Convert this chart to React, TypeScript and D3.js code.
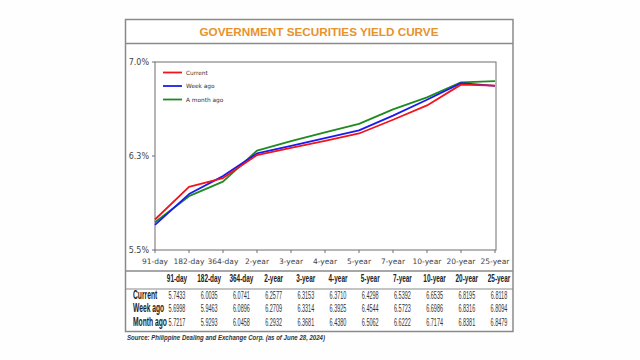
import React from "react";
import * as d3 from "d3";

const tenors = ["91-day", "182-day", "364-day", "2-year", "3-year", "4-year", "5-year", "7-year", "10-year", "20-year", "25-year"];
const current = [5.7433, 6.0035, 6.0741, 6.2577, 6.3153, 6.371, 6.4298, 6.5392, 6.6535, 6.8195, 6.8118];
const weekAgo = [5.6998, 5.9463, 6.0896, 6.2709, 6.3314, 6.3925, 6.4544, 6.5723, 6.6986, 6.8316, 6.8094];
const monthAgo = [5.7217, 5.9293, 6.0458, 6.2932, 6.3681, 6.438, 6.5062, 6.6222, 6.7174, 6.8381, 6.8479];
const yTicks = [5.5, 6.25, 7.0];
const seriesNames = ["Current", "Week ago", "A month ago"];
const rowLabels = ["Current", "Week ago", "Month ago"];
const seriesColors = ["#f2141b", "#1b1bf0", "#1f8a22"];

const W = 640;
const H = 360;
const plot = { left: 155, right: 496, top: 62, bottom: 250 };

export default function App() {
  const x = d3.scalePoint<string>().domain(tenors).range([plot.left, plot.right - 1]);
  const y = d3.scaleLinear().domain([5.5, 7.0]).range([plot.bottom, plot.top]);
  const line = d3
    .line<number>()
    .x((_, i) => x(tenors[i]) as number)
    .y((d) => y(d));
  const series = [current, weekAgo, monthAgo];
  const fmtY = d3.format(".1f");
  const fmtV = d3.format(".4f");
  const colX = d3.scalePoint<string>().domain(tenors).range([177, 499]);
  const rowY = [298.5, 312, 325.5];
  const tableFont = "'Liberation Sans', Arial, sans-serif";
  const axisFont = "Tahoma, 'DejaVu Sans', 'Liberation Sans', sans-serif";

  return (
    <svg width={W} height={H} style={{ position: "absolute", left: 0, top: 0, background: "#fff" }}>
      <rect x={0} y={0} width={W} height={H} fill="#fefefe" />
      {/* outer frame */}
      <rect x={125.5} y={19.5} width={387.5} height={312} fill="#fff" stroke="#8a8a8a" strokeWidth={1.5} />
      <line x1={125.5} x2={513} y1={43.5} y2={43.5} stroke="#8a8a8a" strokeWidth={1.5} />
      <text
        x={319}
        y={36}
        textAnchor="middle"
        fill="#e8922c"
        fontFamily="'Liberation Sans', Arial, sans-serif"
        fontWeight="bold"
        fontSize={11.5}
        textLength={239}
        lengthAdjust="spacingAndGlyphs"
      >
        GOVERNMENT SECURITIES YIELD CURVE
      </text>

      {/* plot box */}
      <rect
        x={plot.left}
        y={plot.top}
        width={plot.right - plot.left}
        height={plot.bottom - plot.top}
        fill="#fff"
        stroke="#6e6e6e"
        strokeWidth={1}
      />
      {yTicks.map((t) => (
        <g key={t}>
          <line x1={plot.left - 3} x2={plot.left} y1={y(t)} y2={y(t)} stroke="#6e6e6e" />
          <text x={149} y={y(t) + 3} textAnchor="end" fontFamily={axisFont} fontSize={8} fill="#444">
            {fmtY(t)}%
          </text>
        </g>
      ))}
      {tenors.map((c) => (
        <g key={c}>
          <line x1={x(c)} x2={x(c)} y1={plot.bottom} y2={plot.bottom + 3} stroke="#6e6e6e" />
          <text x={x(c)} y={264} textAnchor="middle" fontFamily={axisFont} fontSize={7.5} fill="#444">
            {c}
          </text>
        </g>
      ))}

      {/* lines */}
      {[2, 1, 0].map((i) => (
        <path key={i} d={line(series[i]) || ""} fill="none" stroke={seriesColors[i]} strokeWidth={1.8} strokeLinejoin="round" />
      ))}

      {/* legend */}
      {seriesNames.map((n, i) => (
        <g key={n}>
          <line x1={163} x2={182} y1={72.5 + i * 13.5} y2={72.5 + i * 13.5} stroke={seriesColors[i]} strokeWidth={1.8} />
          <text x={186} y={74.5 + i * 13.5} fontFamily={axisFont} fontSize={5.8} fill="#333">
            {n}
          </text>
        </g>
      ))}

      {/* table */}
      <line x1={125.5} x2={513} y1={271} y2={271} stroke="#8a8a8a" strokeWidth={1.5} />
      <line x1={125.5} x2={513} y1={289} y2={289} stroke="#8a8a8a" strokeWidth={1.2} />
      {tenors.map((c) => (
        <text
          key={c}
          transform={`translate(${colX(c)},${282}) scale(0.56,1)`}
          textAnchor="middle"
          fontFamily={tableFont}
          fontWeight="bold"
          fontSize={11.5}
          fill="#222"
        >
          {c}
        </text>
      ))}
      {rowLabels.map((r, ri) => (
        <g key={r}>
          <text
            transform={`translate(${133},${rowY[ri]}) scale(0.56,1)`}
            fontFamily={tableFont}
            fontWeight="bold"
            fontSize={12}
            fill="#222"
          >
            {r}
          </text>
          {series[ri].map((v, ci) => (
            <text
              key={ci}
              transform={`translate(${colX(tenors[ci])},${rowY[ri]}) scale(0.5,1)`}
              textAnchor="middle"
              fontFamily={tableFont}
              fontSize={11}
              fill="#333"
            >
              {fmtV(v)}
            </text>
          ))}
        </g>
      ))}

      <text
        x={127}
        y={340}
        fontFamily="'Liberation Sans', Arial, sans-serif"
        fontWeight="bold"
        fontStyle="italic"
        fontSize={7}
        fill="#333"
        textLength={198}
        lengthAdjust="spacingAndGlyphs"
      >
        Source: Philippine Dealing and Exchange Corp. (as of June 28, 2024)
      </text>
    </svg>
  );
}
